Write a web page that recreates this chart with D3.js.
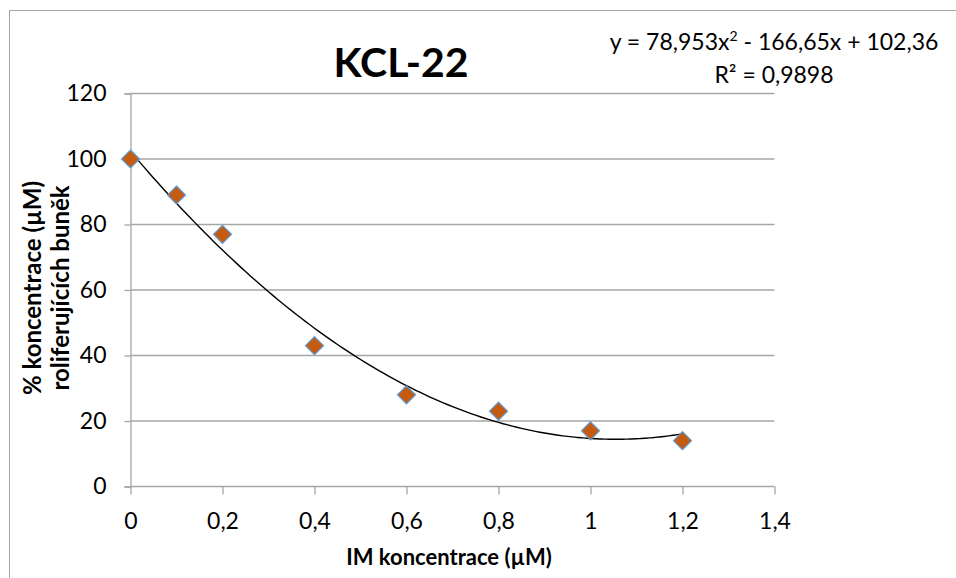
<!DOCTYPE html>
<html>
<head>
<meta charset="utf-8">
<script src="https://cdn.jsdelivr.net/npm/d3@7"></script>
<style>
  html, body { margin: 0; padding: 0; background: #fff; }
  svg { display: block; font-family: Lato, "Open Sans", sans-serif; }
</style>
</head>
<body>
<svg id="chart" width="956" height="578"></svg>
<script>
// Measured proliferation data
const concentrations = [0, 0.1, 0.2, 0.4, 0.6, 0.8, 1.0, 1.2];
const proliferation = [100, 89, 77, 43, 28, 23, 17, 14];
// Polynomial trendline coefficients (a x^2 + b x + c)
const trendCoef = [78.953, -166.65, 102.36];
const xTicks = [0, 0.2, 0.4, 0.6, 0.8, 1, 1.2, 1.4];
const yTicks = [0, 20, 40, 60, 80, 100, 120];

const svg = d3.select("#chart");
const fmt = d => String(d).replace(".", ",");
const FONT = "Lato, 'Open Sans', sans-serif";

// Outer chart frame
svg.append("rect").attr("x", 9.5).attr("y", 10.5).attr("width", 960).attr("height", 600)
  .attr("fill", "none").attr("stroke", "#a6a6a6").attr("stroke-width", 1);

const x = d3.scaleLinear().domain([0, 1.4]).range([130.5, 774.5]);
const y = d3.scaleLinear().domain([0, 120]).range([486.5, 93.5]);

// Horizontal gridlines
svg.append("g").selectAll("line").data(yTicks.filter(d => d > 0)).join("line")
  .attr("x1", x(0)).attr("x2", x(1.4))
  .attr("y1", d => y(d)).attr("y2", d => y(d))
  .attr("stroke", "#a6a6a6").attr("stroke-width", 1.3);

// Y axis
const yAxis = svg.append("g").attr("transform", `translate(${x(0)},0)`)
  .call(d3.axisLeft(y).tickValues(yTicks).tickSize(6).tickPadding(18).tickFormat(fmt));
// X axis
const xAxis = svg.append("g").attr("transform", `translate(0,${y(0)})`)
  .call(d3.axisBottom(x).tickValues(xTicks).tickSize(8).tickPadding(18).tickFormat(fmt));

[yAxis, xAxis].forEach(g => {
  g.attr("font-size", 23).attr("font-family", FONT);
  g.select(".domain").attr("stroke", "#a6a6a6").attr("stroke-width", 1.3);
  g.selectAll(".tick line").attr("stroke", "#a6a6a6").attr("stroke-width", 1.3);
  g.selectAll(".tick text").attr("fill", "#000");
});
xAxis.select(".domain").attr("d", `M${x(0)},0H${x(1.4)}`);

// Trendline
const trend = d3.range(0, 1.2001, 0.01).map(v => [v, trendCoef[0] * v * v + trendCoef[1] * v + trendCoef[2]]);
svg.append("path").datum(trend)
  .attr("fill", "none").attr("stroke", "#000").attr("stroke-width", 1.4)
  .attr("d", d3.line().x(d => x(d[0])).y(d => y(d[1])).curve(d3.curveMonotoneX));

// Diamond markers
const pts = concentrations.map((c, i) => ({ c, v: proliferation[i] }));
svg.append("g").selectAll("path").data(pts).join("path")
  .attr("transform", d => `translate(${x(d.c)},${y(d.v)})`)
  .attr("d", "M0,-9L9,0L0,9L-9,0Z")
  .attr("fill", "#c55a11").attr("stroke", "#5b9bd5").attr("stroke-width", 1.2);

// Title
svg.append("text").attr("x", 401).attr("y", 77).attr("text-anchor", "middle")
  .attr("font-size", 41).attr("font-weight", "bold").text("KCL-22");

// Trendline equation
const eq = svg.append("text").attr("x", 774).attr("y", 50).attr("text-anchor", "middle")
  .attr("font-size", 23);
eq.append("tspan").text("y = 78,953x");
eq.append("tspan").attr("font-size", 14).attr("dy", -9).text("2");
eq.append("tspan").attr("dy", 9).text(" - 166,65x + 102,36");
svg.append("text").attr("x", 774).attr("y", 83).attr("text-anchor", "middle")
  .attr("font-size", 23).text("R² = 0,9898");

// Axis titles
svg.append("text").attr("x", 449).attr("y", 565).attr("text-anchor", "middle")
  .attr("font-size", 22).attr("font-weight", "bold").text("IM koncentrace (µM)");
const yt = svg.append("text").attr("transform", "translate(0,288) rotate(-90)")
  .attr("text-anchor", "middle").attr("font-size", 24).attr("font-weight", "bold");
yt.append("tspan").attr("x", 0).attr("y", 41).text("% koncentrace (µM)");
yt.append("tspan").attr("x", 0).attr("y", 69).text("roliferujících buněk");
</script>
</body>
</html>
